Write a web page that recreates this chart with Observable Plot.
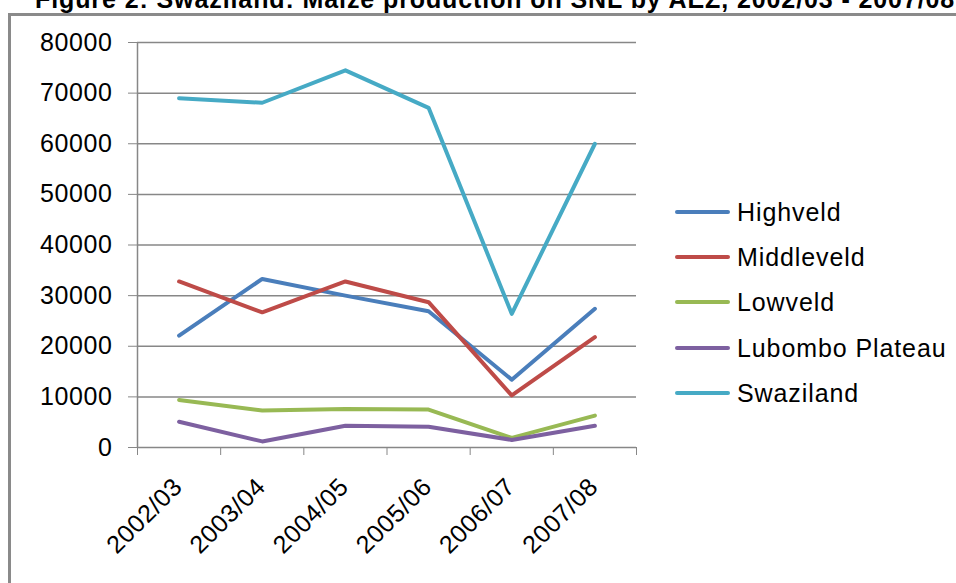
<!DOCTYPE html>
<html><head><meta charset="utf-8">
<script src="https://cdn.jsdelivr.net/npm/d3@7"></script>
<script src="https://cdn.jsdelivr.net/npm/@observablehq/plot@0.6"></script>
<style>
body{margin:0;background:#fff;overflow:hidden}
#wrap{position:relative;width:956px;height:583px;overflow:hidden;font-family:"Liberation Sans",Arial,sans-serif;background:#fff}
#title{position:absolute;left:35px;top:-15px;font-weight:bold;font-size:25px;letter-spacing:0.9px;white-space:nowrap;color:#000}
#frame{position:absolute;left:8px;top:13px;width:1200px;height:1000px;border:3px solid #8a8a8a;box-sizing:border-box}
#chart{position:absolute;left:0;top:0}
#legend{position:absolute;left:675px;top:0;font-size:25px;letter-spacing:0.9px;color:#000}
.item{position:absolute;left:0;white-space:nowrap;display:flex;align-items:center;height:30px}
.sw{display:inline-block;width:55px;height:4px;border-radius:2px;margin-right:7px}
</style></head>
<body>
<div id="wrap">
  <div id="title"></div>
  <div id="frame"></div>
  <div id="chart"></div>
  <div id="legend"></div>
</div>
<script>
const titleText = "Figure 2: Swaziland: Maize production on SNL by AEZ, 2002/03 - 2007/08";
const seasons = ["2002/03","2003/04","2004/05","2005/06","2006/07","2007/08"];
const seriesNames = ["Highveld","Middleveld","Lowveld","Lubombo Plateau","Swaziland"];
const seriesColors = ["#4a7ebb","#be4b48","#98b954","#7d60a0","#46aac5"];
const highveld   = [22100,33300,30000,26900,13400,27400];
const middleveld = [32800,26700,32800,28700,10300,21800];
const lowveld    = [9400,7300,7600,7500,1900,6300];
const lubombo    = [5100,1200,4300,4100,1500,4300];
const swaziland  = [69000,68100,74500,67100,26400,60000];
const yTicks = [0,10000,20000,30000,40000,50000,60000,70000,80000];

const seriesValues = [highveld, middleveld, lowveld, lubombo, swaziland];
const rows = [];
seriesValues.forEach((vals, s) => vals.forEach((v, i) => rows.push({series: seriesNames[s], i, value: v})));

document.getElementById("title").textContent = titleText;

const grey = "#878787";
const plot = Plot.plot({
  width: 956, height: 583,
  marginLeft: 137, marginRight: 320, marginTop: 42, marginBottom: 136,
  style: {fontFamily: "'Liberation Sans', Arial, sans-serif", fontSize: "25px", letterSpacing: "0.6px", color: "#000", background: "transparent", overflow: "visible"},
  x: {type: "linear", domain: [-0.5, 5.5]},
  y: {domain: [0, 80000]},
  color: {domain: seriesNames, range: seriesColors},
  marks: [
    Plot.gridY(yTicks, {stroke: grey, strokeOpacity: 1, strokeWidth: 1.5}),
    Plot.ruleX([-0.5], {y1: 0, y2: 80000, stroke: grey, strokeWidth: 1.5}),
    Plot.axisY(yTicks, {tickSize: 9, tickPadding: 16, tickFormat: d => String(d), stroke: grey, strokeOpacity: 1, fill: "#000", label: null}),
    Plot.axisX(d3.range(-0.5, 6, 1), {tickSize: 8, tickFormat: () => "", stroke: grey, strokeOpacity: 1, label: null}),
    Plot.axisX(d3.range(6), {tickSize: 0, tickPadding: 35, tickRotate: -45, dx: -1, tickFormat: i => seasons[i], fill: "#000", label: null}),
    Plot.lineY(rows, {x: "i", y: "value", z: "series", stroke: "series", strokeWidth: 4, strokeLinejoin: "round", strokeLinecap: "round"})
  ]
});
document.getElementById("chart").appendChild(plot);

const legendY = [212, 257, 302, 348, 393];
const legend = document.getElementById("legend");
seriesNames.forEach((name, k) => {
  const d = document.createElement("div");
  d.className = "item";
  d.style.top = (legendY[k] - 15) + "px";
  d.innerHTML = `<span class="sw" style="background:${seriesColors[k]}"></span><span>${name}</span>`;
  legend.appendChild(d);
});
</script>
</body></html>
